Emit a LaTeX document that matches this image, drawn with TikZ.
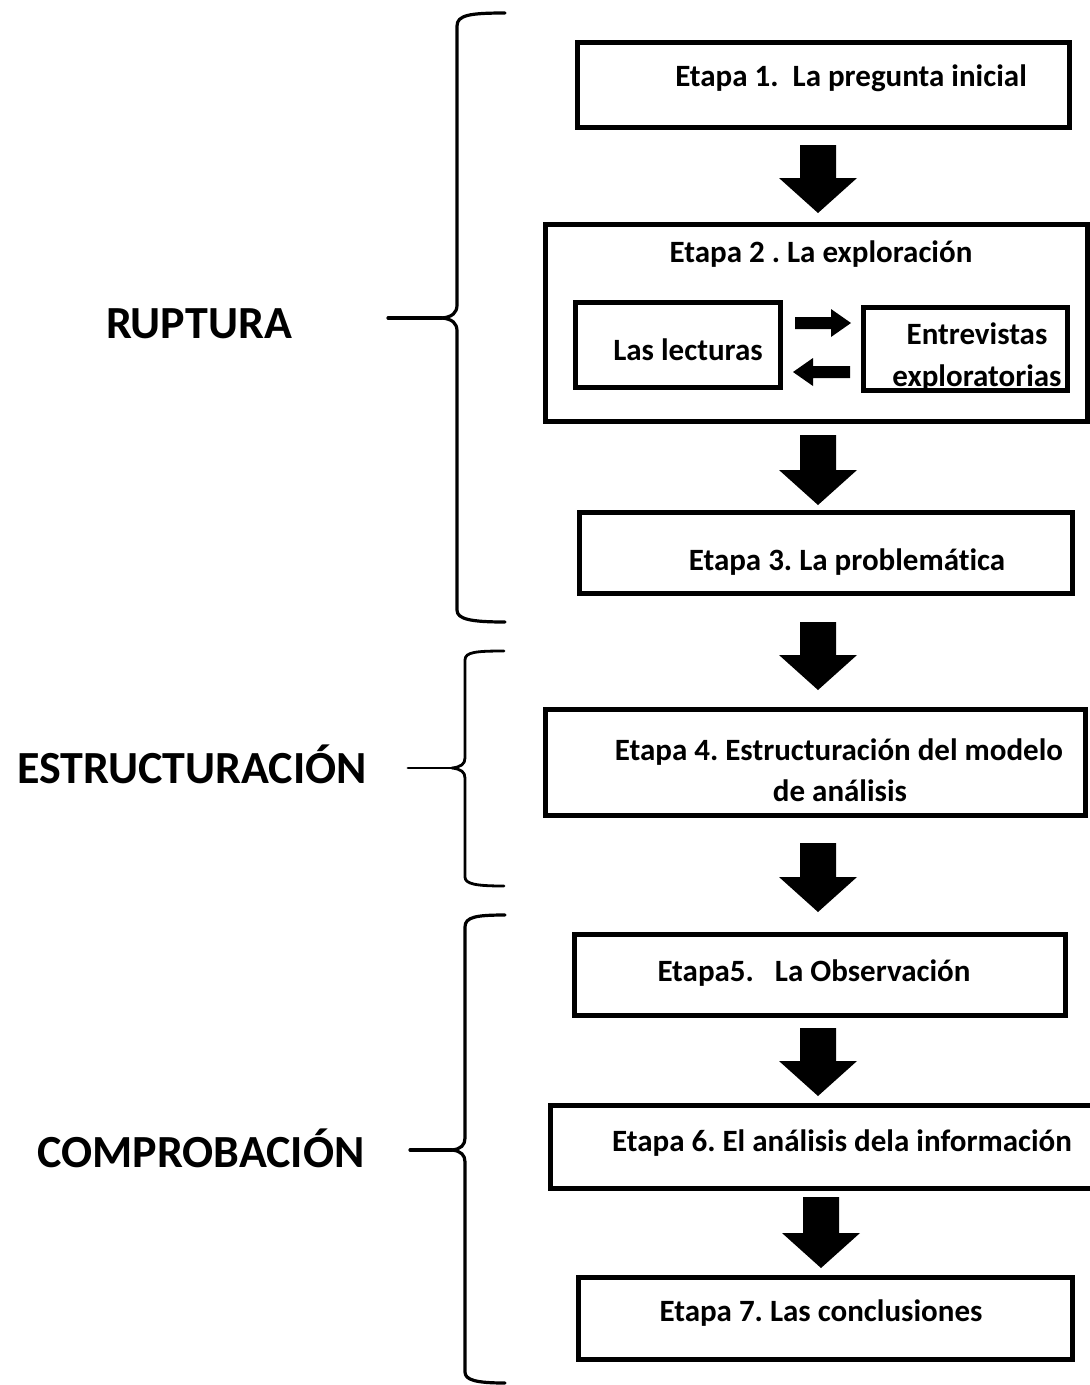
\documentclass[tikz,border=0pt]{standalone}
\usepackage{fontspec}
\setmainfont{Carlito}[Ligatures=NoCommon]
\frenchspacing
\usetikzlibrary{calc}
\tikzset{
  box/.style={draw=black, line width=5pt, rectangle, inner sep=0pt},
  txt/.style={font=\bfseries\fontsize{31}{37}\selectfont, anchor=base, inner sep=0pt},
  lbl/.style={font=\bfseries\fontsize{46}{52}\selectfont, anchor=base, inner sep=0pt},
  brace/.style={draw=black, line width=3.2pt, line cap=round, line join=round}
}
% vertical block arrow: tail point, tip point
\newcommand\varrow[2]{\fill let \p1=(#1), \p2=(#2) in
  (\x1-18pt,\y1) -- (\x1+18pt,\y1) -- (\x1+18pt,\y2+35pt) -- (\x1+39pt,\y2+35pt)
  -- (\x1,\y2) -- (\x1-39pt,\y2+35pt) -- (\x1-18pt,\y2+35pt) -- cycle;}
% rightward small arrow
\newcommand\rarrow[2]{\fill let \p1=(#1), \p2=(#2) in
  (\x1,\y1+6pt) -- (\x2-20pt,\y1+6pt) -- (\x2-20pt,\y1+14pt) -- (\x2,\y1)
  -- (\x2-20pt,\y1-14pt) -- (\x2-20pt,\y1-6pt) -- (\x1,\y1-6pt) -- cycle;}
% leftward small arrow
\newcommand\larrow[2]{\fill let \p1=(#1), \p2=(#2) in
  (\x1,\y1+6pt) -- (\x2+20pt,\y1+6pt) -- (\x2+20pt,\y1+14pt) -- (\x2,\y1)
  -- (\x2+20pt,\y1-14pt) -- (\x2+20pt,\y1-6pt) -- (\x1,\y1-6pt) -- cycle;}
\begin{document}
\begin{tikzpicture}[x=1pt, y=-1pt]
\useasboundingbox (0,0) rectangle (1090,1385);

% ---- boxes ----
\node[box, minimum width=492pt, minimum height=85pt] (b1) at (823.5,85) {};
\node[box, minimum width=542pt, minimum height=197pt] (b2) at (816.5,323) {};
\node[box, minimum width=205pt, minimum height=85pt] (le) at (678,345) {};
\node[box, minimum width=204pt, minimum height=83pt] (en) at (965.5,349) {};
\node[box, minimum width=493pt, minimum height=81pt] (b3) at (826,553) {};
\node[box, minimum width=540pt, minimum height=106pt] (b4) at (815.5,762.5) {};
\node[box, minimum width=491pt, minimum height=81pt] (b5) at (820,975) {};
\node[box, minimum width=545pt, minimum height=83pt] (b6) at (823,1147) {};
\node[box, minimum width=494pt, minimum height=82pt] (b7) at (825.5,1318.5) {};

% ---- texts ----
\node[txt] (t1) at (851,86) {Etapa 1.\ \ La pregunta inicial};
\node[txt] (t2) at (821,262) {Etapa 2 . La exploración};
\node[txt] (tle) at (688,360) {Las lecturas};
\node[txt] (ten1) at (977,344) {Entrevistas};
\node[txt] (ten2) at (977,386) {exploratorias};
\node[txt] (t3) at (847,570) {Etapa 3. La problemática};
\node[txt] (t4a) at (839,760) {Etapa 4. Estructuración del modelo};
\node[txt] (t4b) at (840,801) {de análisis};
\node[txt] (t5) at (814,981) {Etapa5.\ \ \ La Observación};
\node[txt] (t6) at (842,1151) {Etapa 6. El análisis dela información};
\node[txt] (t7) at (821,1321) {Etapa 7. Las conclusiones};

% ---- labels ----
\node[lbl] (r) at (199,338) {RUPTURA};
\node[lbl] (e) at (192,783) {ESTRUCTURACIÓN};
\node[lbl] (c) at (201,1167) {COMPROBACIÓN};

% ---- block arrows ----
\coordinate (ax) at (818,0);
\varrow{[yshift=-15pt]b1.south -| ax}{[yshift=9pt]b2.north -| ax}
\varrow{[yshift=-11pt]b2.south -| ax}{[yshift=5pt]b3.north -| ax}
\varrow{[yshift=-26pt]b3.south -| ax}{[yshift=17pt]b4.north -| ax}
\varrow{[yshift=-25pt]b4.south -| ax}{[yshift=20pt]b5.north -| ax}
\varrow{[yshift=-10pt]b5.south -| ax}{[yshift=7pt]b6.north -| ax}
\coordinate (ax6) at (821,0);
\varrow{[yshift=-6pt]b6.south -| ax6}{[yshift=7pt]b7.north -| ax6}

% ---- small arrows ----
\coordinate (ry) at (0,323);
\coordinate (ly) at (0,372);
\rarrow{[xshift=12pt]le.east |- ry}{[xshift=-10pt]en.west |- ry}
\larrow{[xshift=-11pt]en.west |- ly}{[xshift=10pt]le.east |- ly}

% ---- braces ----
\draw[brace] (505,13) .. controls (470,13) and (457,15) .. (457,26) -- (457,305)
  .. controls (457,313) and (452,317) .. (442,318)
  .. controls (452,319) and (457,323) .. (457,331) -- (457,610)
  .. controls (457,619) and (470,622) .. (505,622);
\draw[brace] (388,318) -- (442,318);

\draw[brace, line width=2.8pt] (504,651) .. controls (476,651) and (465,652) .. (465,660) -- (465,758)
  .. controls (465,764) and (461,767) .. (452,768)
  .. controls (461,769) and (465,772) .. (465,778) -- (465,877)
  .. controls (465,884) and (476,886) .. (504,886);
\draw[brace, line width=2.8pt] (408,768) -- (452,768);

\draw[brace] (505,915) .. controls (476,915) and (465,917) .. (465,927) -- (465,1138)
  .. controls (465,1145) and (461,1149) .. (452,1150)
  .. controls (461,1151) and (465,1155) .. (465,1162) -- (465,1372)
  .. controls (465,1380) and (476,1383) .. (505,1383);
\draw[brace] (410,1150) -- (452,1150);
\end{tikzpicture}
\end{document}
